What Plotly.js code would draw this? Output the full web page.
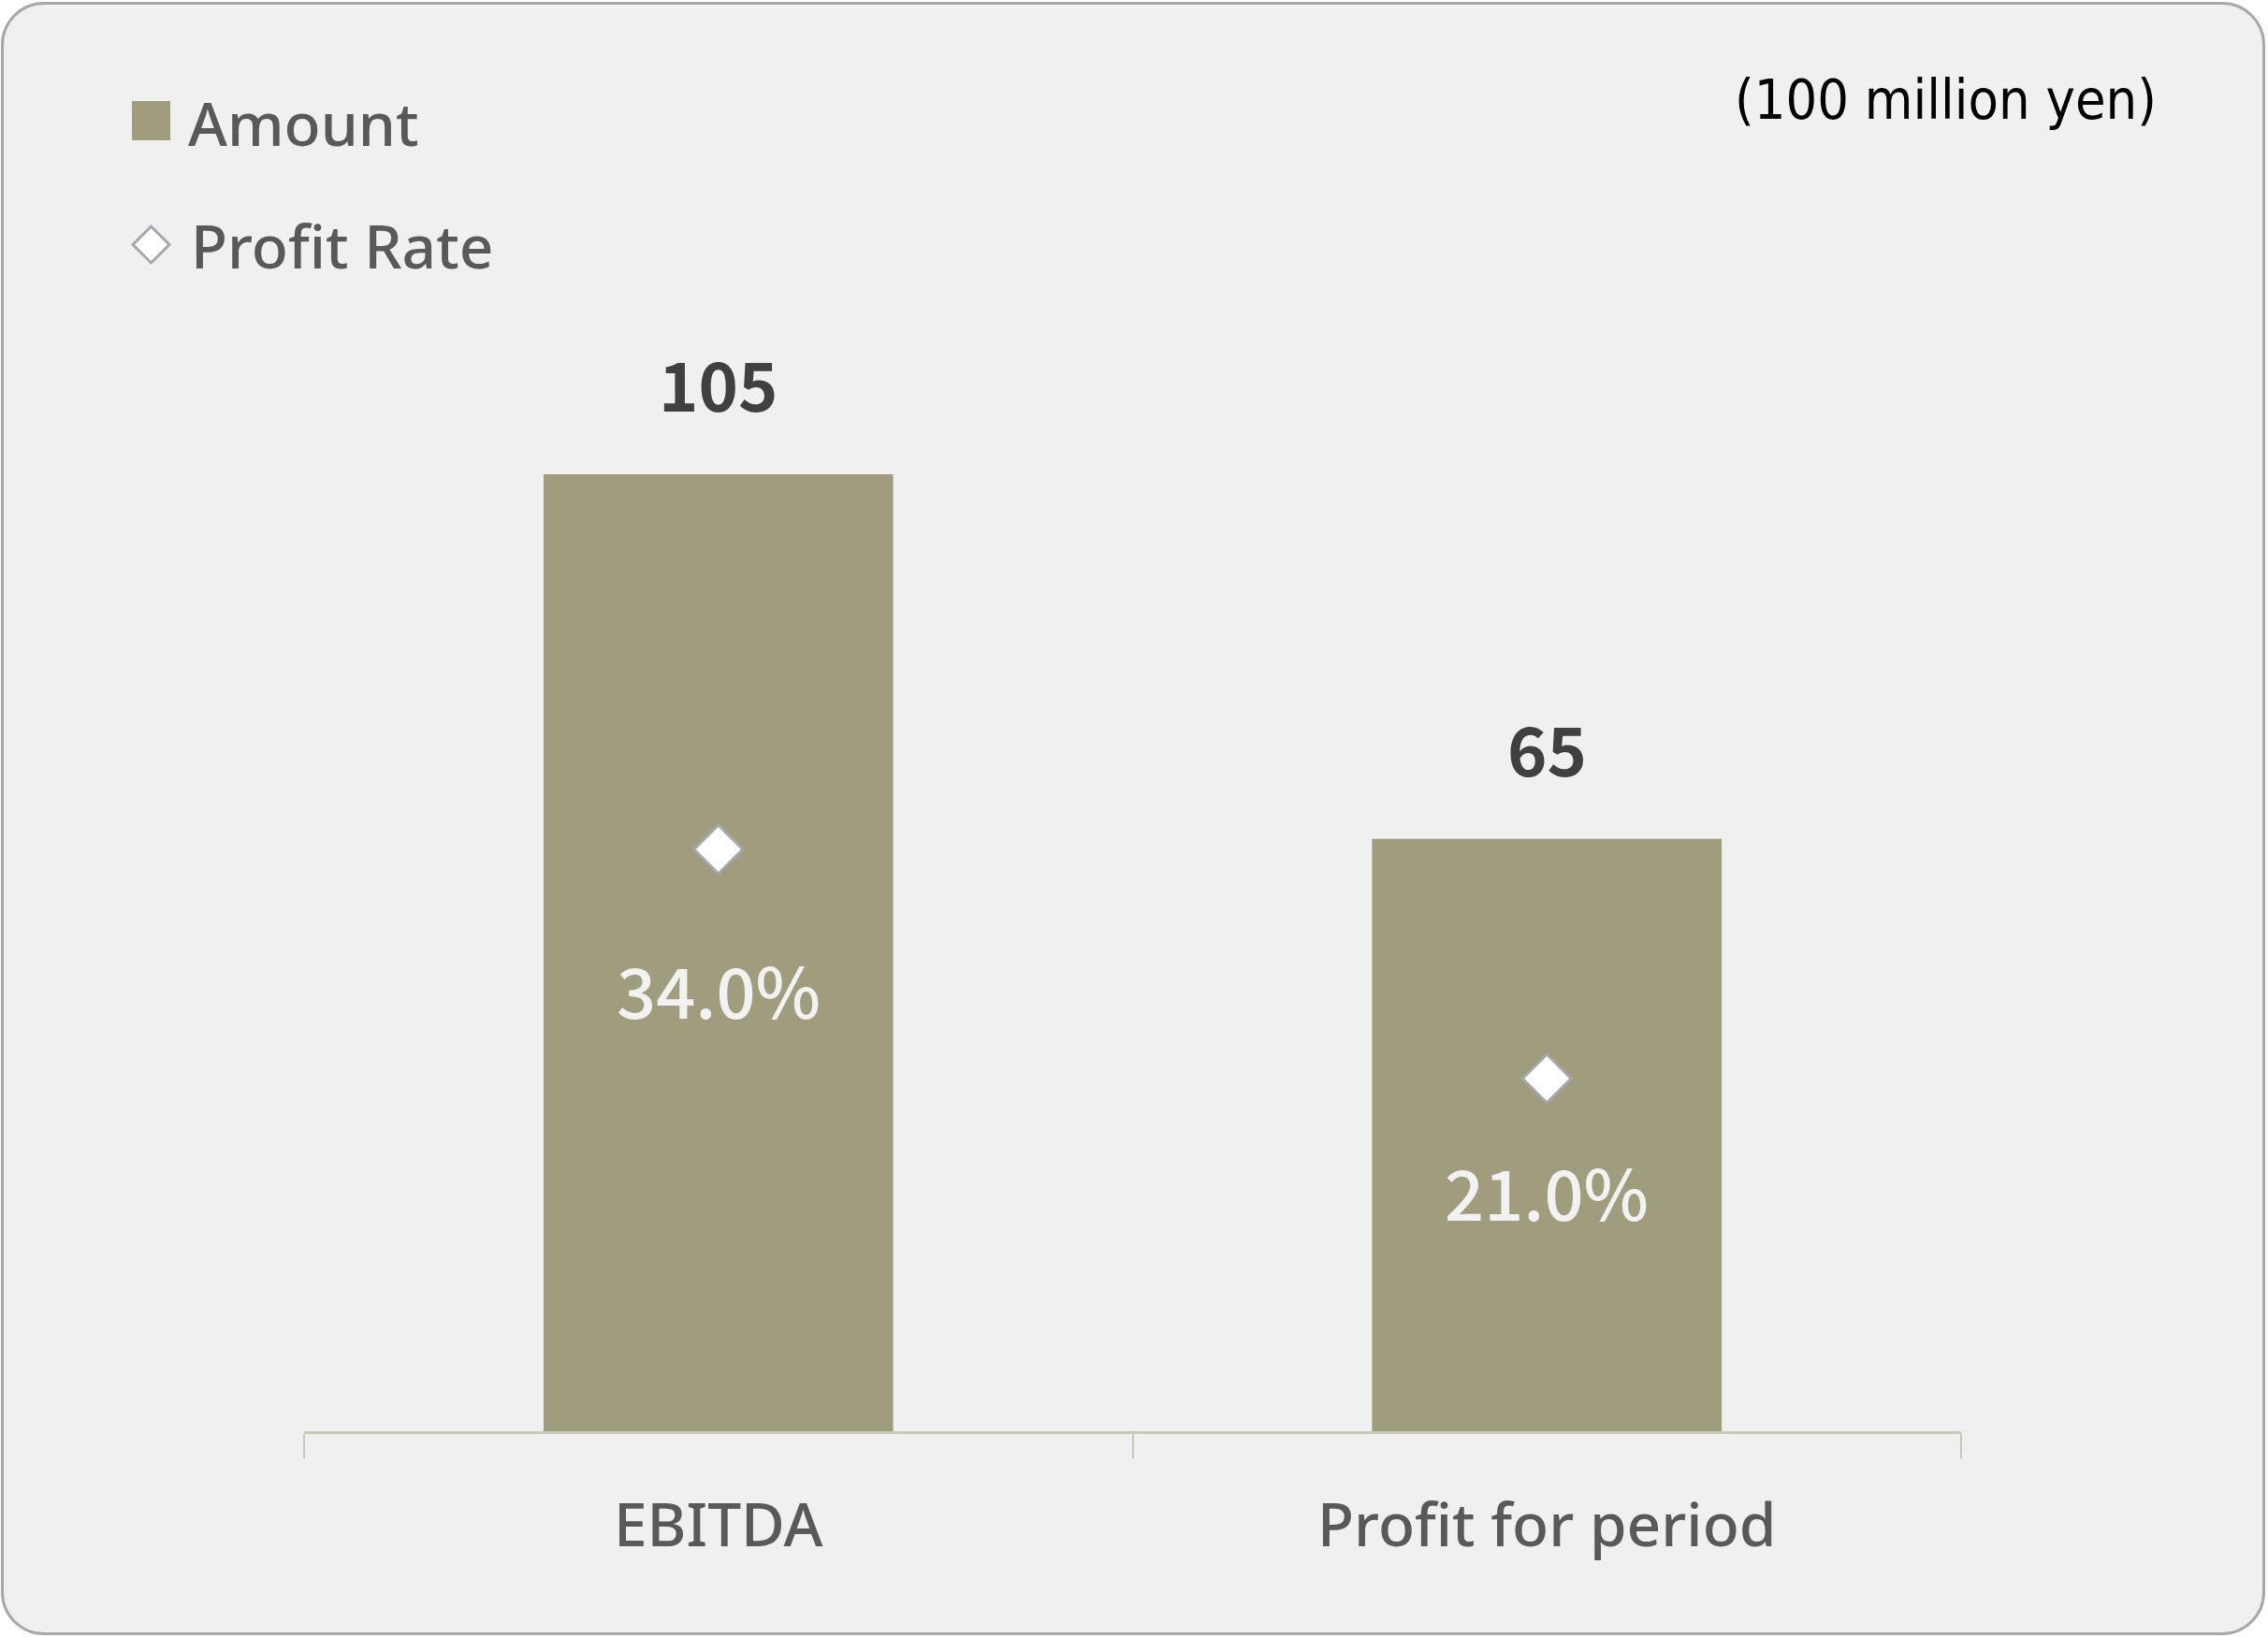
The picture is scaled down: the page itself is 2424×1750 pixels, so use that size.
<!DOCTYPE html>
<html>
<head>
<meta charset="utf-8">
<script src="https://cdn.plot.ly/plotly-3.0.1.min.js"></script>
<style>
  html, body { margin: 0; padding: 0; background: #ffffff; }
  #frame {
    position: absolute; left: 1px; top: 2px;
    width: 2420px; height: 1746px; box-sizing: border-box;
    border: 3px solid #a8a8a8; border-radius: 46px;
    background: #f0f0f0; overflow: hidden;
  }
  #chart { position: absolute; left: -4px; top: -5px; width: 2424px; height: 1750px; }
</style>
</head>
<body>
<div id="frame"><div id="chart"></div></div>
<script>
// Amounts in 100 million yen, profit rate in percent
const categories = ['EBITDA', 'Profit for period'];
const amounts = [105, 65];
const profitRates = [34.0, 21.0];

// vertical pixel offset of each rate label below its marker
const rateLabelShift = [-149, -119];

const W = 2424, H = 1750;
const margin = { l: 325, r: 328, t: 166, b: 220 };
const plotW = W - margin.l - margin.r;
const plotH = H - margin.t - margin.b;
// pixel -> paper helpers for the hand-drawn legend
const px = x => (x - margin.l) / plotW;
const py = y => (H - margin.b - y) / plotH;

const barColor = '#a09c7e';
const textGrey = '#595959';

const bars = {
  type: 'bar', x: categories, y: amounts, name: 'Amount',
  marker: { color: barColor }, showlegend: false, hoverinfo: 'skip'
};
const rates = {
  type: 'scatter', mode: 'markers', x: categories, y: profitRates, yaxis: 'y2',
  name: 'Profit Rate', showlegend: false, hoverinfo: 'skip',
  marker: { symbol: 'diamond', size: 40, color: '#ffffff', line: { color: '#a6a7ad', width: 3 } }
};

const annotations = [];
categories.forEach((c, i) => {
  annotations.push({
    x: c, y: amounts[i], xref: 'x', yref: 'y', text: String(amounts[i]),
    showarrow: false, yanchor: 'bottom', yshift: 44,
    font: { family: 'Noto Sans CJK JP', size: 72, color: '#404040', weight: 'bold' }
  });
  annotations.push({
    x: c, y: profitRates[i], xref: 'x', yref: 'y2', text: profitRates[i].toFixed(1) + '%',
    showarrow: false, yanchor: 'middle', yshift: rateLabelShift[i],
    font: { family: 'Noto Sans CJK JP', size: 74, color: '#f2f2f2', weight: 500 }
  });
});

// legend labels and unit note
annotations.push(
  { xref: 'paper', yref: 'paper', x: px(199), y: py(131), xanchor: 'left', yanchor: 'middle',
    text: 'Amount', showarrow: false, font: { family: 'Noto Sans', size: 64, color: textGrey, weight: 500 } },
  { xref: 'paper', yref: 'paper', x: px(202), y: py(262), xanchor: 'left', yanchor: 'middle',
    text: 'Profit Rate', showarrow: false, font: { family: 'Noto Sans', size: 64, color: textGrey, weight: 500 } },
  { xref: 'paper', yref: 'paper', x: px(2079), y: py(106), xanchor: 'center', yanchor: 'middle',
    text: '(100 million yen)', showarrow: false,
    font: { family: 'DejaVu Sans Condensed, DejaVu Sans', size: 59, color: '#000000' } }
);

const shapes = [
  { type: 'rect', xref: 'paper', yref: 'paper', x0: px(141), x1: px(182), y0: py(150), y1: py(108),
    fillcolor: barColor, line: { width: 0 } },
  { type: 'path', xref: 'paper', yref: 'paper',
    path: `M ${px(142)} ${py(261.5)} L ${px(161.5)} ${py(242)} L ${px(181)} ${py(261.5)} L ${px(161.5)} ${py(281)} Z`,
    fillcolor: '#ffffff', line: { color: '#a6a7ad', width: 3 } }
];

const layout = {
  width: W, height: H,
  margin: margin,
  paper_bgcolor: 'rgba(0,0,0,0)', plot_bgcolor: 'rgba(0,0,0,0)',
  bargap: 0.578,
  showlegend: false,
  xaxis: {
    type: 'category', range: [-0.5, 1.5],
    showline: true, linecolor: '#c9c9b8', linewidth: 3,
    ticks: 'outside', tickson: 'boundaries', ticklen: 26, tickwidth: 2, tickcolor: '#c9c9b8',
    showgrid: false, zeroline: false, ticklabelstandoff: 43,
    tickfont: { family: 'Noto Sans', size: 64, color: textGrey, weight: 500 }
  },
  yaxis: { range: [0, 140], visible: false, showgrid: false, zeroline: false },
  yaxis2: { range: [1.0, 73.36], overlaying: 'y', visible: false, showgrid: false, zeroline: false },
  annotations: annotations,
  shapes: shapes
};

Plotly.newPlot('chart', [bars, rates], layout, { displayModeBar: false, staticPlot: true });
</script>
</body>
</html>
